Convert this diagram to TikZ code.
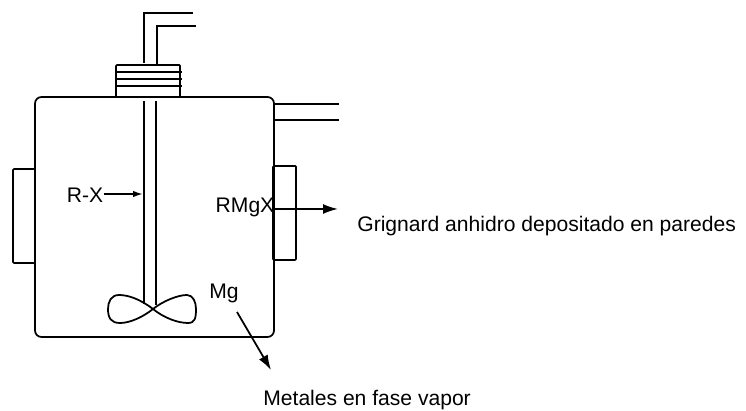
\documentclass[tikz,border=0pt]{standalone}
\usepackage{fontspec}
\setmainfont{Liberation Sans}
\usetikzlibrary{arrows.meta,positioning}
\begin{document}
\begin{tikzpicture}[
      x=0.02cm,y=-0.02cm,
      vessel/.style={draw=black,line width=1pt,rounded corners=0.13cm},
      jacket/.style={draw=black,line width=1pt,rounded corners=0.02cm},
      pipe/.style={draw=black,line width=1pt},
      flowedge/.style={-{Latex[length=3mm,width=2mm]},color=black,line width=1pt},
      smalledge/.style={-{Latex[length=2mm,width=1.3mm]},color=black,line width=1pt},
      tag/.style={inner sep=0pt,font=\fontsize{12pt}{14pt}\selectfont}
    ]
      \useasboundingbox (0,0) rectangle (746,411);

      % vessel and cap
      \draw[vessel] (35,97) rectangle (274,337);
      \draw[jacket] (116,97) -- (116,65) -- (180,65) -- (180,97);
      \foreach \capy in {72,79,86}
        \draw[pipe] (116,\capy) -- (182,\capy);

      % jackets
      \draw[jacket] (35,169) -- (13,169) -- (13,263) -- (35,263);
      \draw[jacket] (273,166) rectangle (296,260);

      % tubes
      \draw[pipe] (144,63) -- (144,13) -- (193,13);
      \draw[pipe] (157,65) -- (157,26) -- (196,26);
      \draw[pipe] (274,104) -- (339,104);
      \draw[pipe] (274,120) -- (339,120);

      % shaft and paddle
      \draw[pipe] (144,101) -- (144,304);
      \draw[pipe] (156,101) -- (156,305);
      \draw[pipe] (153,309) .. controls (140,299) and (128,295) .. (119,295)
        .. controls (111,295) and (108,302) .. (108,309)
        .. controls (108,318) and (111,323) .. (120,323)
        .. controls (130,323) and (143,317) .. (153,309)
        .. controls (163,301) and (178,295) .. (187,295)
        .. controls (193,295) and (196,302) .. (196,309)
        .. controls (196,318) and (195,323) .. (188,323)
        .. controls (178,323) and (164,318) .. (153,309) -- cycle;

      % labels
      \node[tag] (rx) at (85,195) {R-X};
      \node[tag] (rmgx) at (245,207) {RMgX};
      \node[tag] (mg) at (224,293) {Mg};
      \node[tag,anchor=west] (grignard) at (357,226) {Grignard anhidro depositado en paredes};
      \node[tag,anchor=west] (metales) at (263,400) {Metales en fase vapor};

      \coordinate (shaft) at (143,194);
      \coordinate (rmgxend) at (338,209);
      \coordinate (mgstart) at (237,312);
      \coordinate (mgend) at (271,370);

      \draw[smalledge] (rx.east |- shaft) -- (shaft);
      \draw[flowedge] (rmgx.east |- rmgxend) -- (rmgxend);
      \draw[flowedge] (mgstart) -- (mgend);
    \end{tikzpicture}
\end{document}
